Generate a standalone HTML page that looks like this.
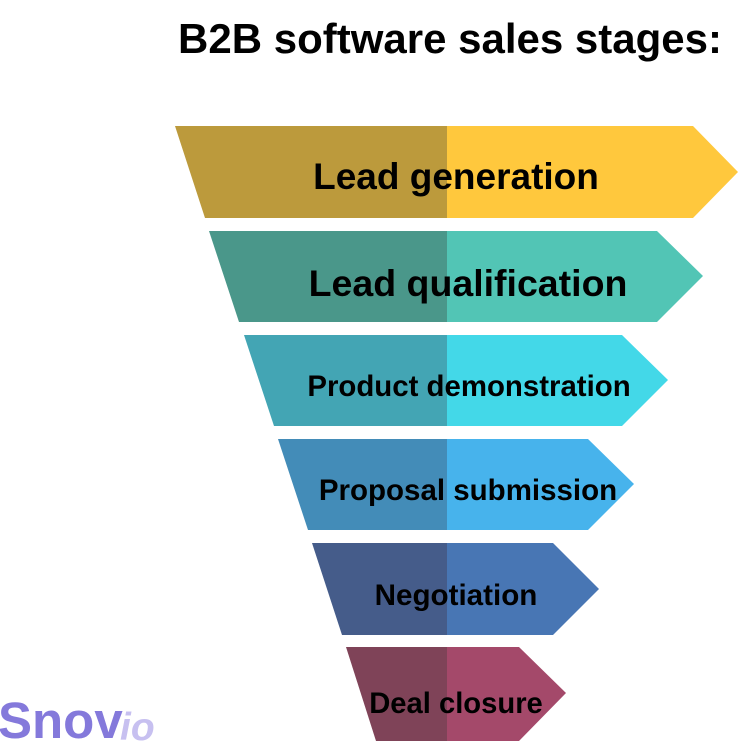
<!DOCTYPE html>
<html><head><meta charset="utf-8"><style>
html,body{margin:0;padding:0;background:#fff;width:739px;height:741px;overflow:hidden}
svg{display:block}
text{font-family:"Liberation Sans",Arial,sans-serif;font-weight:bold;fill:#000}
</style></head><body>
<svg width="739" height="741" viewBox="0 0 739 741">
<text x="450" y="53" font-size="42" text-anchor="middle">B2B software sales stages:</text>

<polygon points="175,126 447,126 447,218 205,218" fill="#BC9A3C"/>
<polygon points="447,126 693,126 738,172 693,218 447,218" fill="#FFC83D"/>
<text x="456" y="189" font-size="37" text-anchor="middle">Lead generation</text>

<polygon points="209,231 447,231 447,322 239,322" fill="#4A978A"/>
<polygon points="447,231 657,231 703,276 657,322 447,322" fill="#52C5B5"/>
<text x="468" y="296" font-size="37.5" text-anchor="middle">Lead qualification</text>

<polygon points="244,335 447,335 447,426 274,426" fill="#43A5B4"/>
<polygon points="447,335 622,335 668,380 622,426 447,426" fill="#43D8E8"/>
<text x="469" y="396" font-size="29.4" text-anchor="middle">Product demonstration</text>

<polygon points="278,439 447,439 447,530 308,530" fill="#438CB8"/>
<polygon points="447,439 588,439 634,484 588,530 447,530" fill="#47B3EC"/>
<text x="468" y="500" font-size="29.5" text-anchor="middle">Proposal submission</text>

<polygon points="312,543 447,543 447,635 342,635" fill="#455C8A"/>
<polygon points="447,543 553,543 599,589 553,635 447,635" fill="#4876B4"/>
<text x="456" y="605" font-size="29.6" text-anchor="middle">Negotiation</text>

<polygon points="346,647 447,647 447,741 376,741" fill="#7F4358"/>
<polygon points="447,647 519,647 566,693 519,741 447,741" fill="#A4496A"/>
<text x="456" y="713" font-size="29.2" text-anchor="middle">Deal closure</text>

<text x="-2" y="738" font-size="51" style="fill:#8479DB">Snov</text>
<text x="120" y="740" font-size="39" font-style="italic" style="fill:#C7C0F0">io</text>
</svg>
</body></html>
